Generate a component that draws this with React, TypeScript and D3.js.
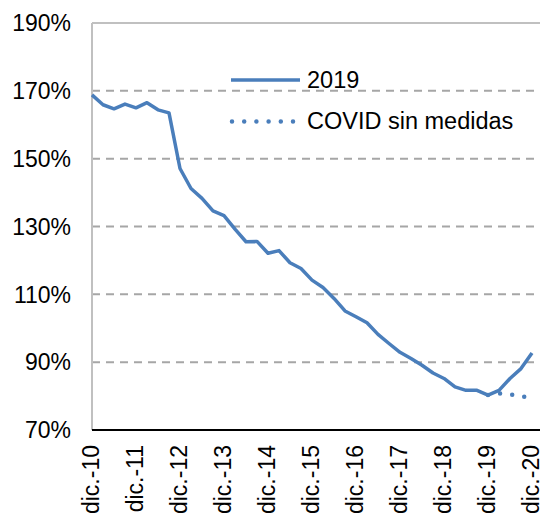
import React from "react";
import * as d3 from "d3";

// quarterly series, dic.-10 .. dic.-20 (41 quarters)
const series2019 = [
  168.8, 165.9, 164.7, 166.1, 165.0, 166.5, 164.4, 163.5, 147.1, 141.2,
  138.3, 134.6, 133.2, 129.2, 125.5, 125.6, 122.1, 122.9, 119.3, 117.6,
  114.2, 112.0, 108.8, 105.1, 103.4, 101.6, 98.2, 95.5, 92.9, 91.1,
  89.1, 86.8, 85.2, 82.7, 81.7, 81.7, 80.3, 81.7, 85.2, 88.1, 92.7,
];
const covidStart = 36;
const seriesCovid = [80.3, 80.8, 80.5, 79.9, 79.5];

const xTickLabels = [
  "dic.-10", "dic.-11", "dic.-12", "dic.-13", "dic.-14", "dic.-15",
  "dic.-16", "dic.-17", "dic.-18", "dic.-19", "dic.-20",
];
const yTicks = [70, 90, 110, 130, 150, 170, 190];
const legendItems = ["2019", "COVID sin medidas"];

const W = 540;
const H = 515;
const FONT = "'Liberation Sans', Arial, sans-serif";
const BLUE = "#4a7ebb";

export default function App() {
  const left = 92;
  const right = 540;
  const top = 23;
  const bottom = 430;

  const x = d3.scaleLinear().domain([0, series2019.length - 1]).range([92, 532]);
  const y = d3.scaleLinear().domain([70, 190]).range([bottom, top]);

  const line = d3
    .line<[number, number]>()
    .x((d) => x(d[0]))
    .y((d) => y(d[1]));

  const mainPath = line(series2019.map((v, i) => [i, v]));
  const covidPath = line(seriesCovid.map((v, i) => [covidStart + i, v]));

  return (
    <svg
      width={W}
      height={H}
      style={{ position: "absolute", left: 0, top: 0, background: "#fff" }}
      fontFamily={FONT}
    >
      {/* gridlines */}
      {yTicks
        .filter((t) => t !== 70 && t !== 190)
        .map((t) => (
          <line
            key={t}
            x1={left}
            x2={right}
            y1={y(t)}
            y2={y(t)}
            stroke="#a6a6a6"
            strokeWidth={2}
            strokeDasharray="8,6"
          />
        ))}
      {/* top border + left axis */}
      <line x1={left} x2={right} y1={top} y2={top} stroke="#c0c0c0" strokeWidth={2} />
      <line x1={left} x2={left} y1={top} y2={bottom} stroke="#c0c0c0" strokeWidth={2} />

      {/* y tick labels */}
      {yTicks.map((t) => (
        <text
          key={t}
          x={71}
          y={y(t)}
          dy="0.36em"
          textAnchor="end"
          fontSize={23}
          fill="#000"
        >
          {t}%
        </text>
      ))}

      {/* series */}
      <path
        d={covidPath ?? ""}
        fill="none"
        stroke={BLUE}
        strokeWidth={4.5}
        strokeLinecap="round"
        strokeDasharray="0,12.2"
      />
      <path
        d={mainPath ?? ""}
        fill="none"
        stroke={BLUE}
        strokeWidth={3.5}
        strokeLinejoin="round"
      />

      {/* x axis */}
      <line x1={left} x2={right} y1={bottom} y2={bottom} stroke="#000" strokeWidth={2} />
      {xTickLabels.map((lab, k) => {
        const px = x(k * 4) - 1;
        return (
          <text
            key={lab}
            transform={`translate(${px},445) rotate(-90)`}
            dy="0.36em"
            textAnchor="end"
            fontSize={23}
            fill="#000"
          >
            {lab}
          </text>
        );
      })}

      {/* legend */}
      <line x1={231} x2={300} y1={80} y2={80} stroke={BLUE} strokeWidth={3.5} />
      <text x={307} y={80} dy="0.36em" fontSize={23.5} fill="#000">
        {legendItems[0]}
      </text>
      <line
        x1={232}
        x2={295}
        y1={121.5}
        y2={121.5}
        stroke={BLUE}
        strokeWidth={4.5}
        strokeLinecap="round"
        strokeDasharray="0,12.2"
      />
      <text x={307} y={121} dy="0.36em" fontSize={23.5} fill="#000">
        {legendItems[1]}
      </text>
    </svg>
  );
}
